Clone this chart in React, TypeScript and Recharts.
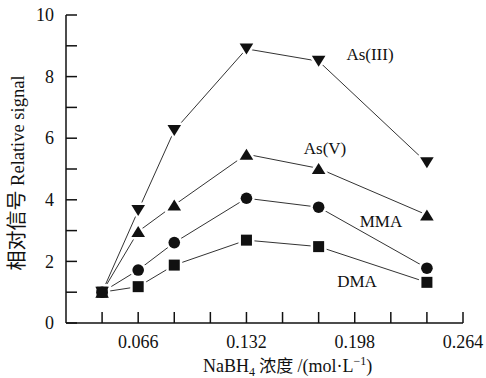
import React from 'react';
import { ComposedChart, Line, XAxis, YAxis } from 'recharts';

// NaBH4 concentration (mol/L) and relative signal of each arsenic species
const concentrations = [0.044, 0.066, 0.088, 0.132, 0.176, 0.242];
const asIII = [1.0, 3.65, 6.25, 8.9, 8.5, 5.2];
const asV = [1.0, 2.97, 3.83, 5.48, 5.02, 3.51];
const mma = [1.0, 1.72, 2.61, 4.05, 3.76, 1.78];
const dma = [1.0, 1.18, 1.88, 2.69, 2.48, 1.32];

const xTicks = [0.044, 0.066, 0.088, 0.11, 0.132, 0.154, 0.176, 0.198, 0.22, 0.242, 0.264];
const xLabeled = ['0.066', '0.132', '0.198', '0.264'];
const yTicks = [0, 1, 2, 3, 4, 5, 6, 7, 8, 9, 10];
const yLabeled = [0, 2, 4, 6, 8, 10];

const X_DOMAIN: [number, number] = [0.022, 0.264];
const Y_DOMAIN: [number, number] = [0, 10];

const FONT = "'Liberation Serif', 'Times New Roman', 'Noto Sans CJK SC', serif";
const INK = '#111';
const TICK_LEN = 11;

const W = 486;
const H = 378;
const M = { top: 15, right: 23, bottom: 0, left: 0 };
const Y_AXIS_W = 66;
const X_AXIS_H = 55;

// plot box, same as the one the chart lays out from the margins and axis sizes
const PLOT = {
  left: M.left + Y_AXIS_W,
  right: W - M.right,
  top: M.top,
  bottom: H - M.bottom - X_AXIS_H,
};
const px = (v: number) =>
  PLOT.left + ((v - X_DOMAIN[0]) / (X_DOMAIN[1] - X_DOMAIN[0])) * (PLOT.right - PLOT.left);
const py = (v: number) =>
  PLOT.bottom - ((v - Y_DOMAIN[0]) / (Y_DOMAIN[1] - Y_DOMAIN[0])) * (PLOT.bottom - PLOT.top);

type Shape = 'down' | 'up' | 'circle' | 'square';

const series: { key: string; name: string; shape: Shape; values: number[] }[] = [
  { key: 'asIII', name: 'As(III)', shape: 'down', values: asIII },
  { key: 'asV', name: 'As(V)', shape: 'up', values: asV },
  { key: 'mma', name: 'MMA', shape: 'circle', values: mma },
  { key: 'dma', name: 'DMA', shape: 'square', values: dma },
];

// where each series name sits, as the centre of its text
const namePos: Record<string, [number, number]> = {
  asIII: [370, 54],
  asV: [325, 148],
  mma: [381, 221],
  dma: [357, 281],
};

const data = concentrations.map((c, i) => {
  const row: Record<string, number> = { c };
  series.forEach((s) => {
    row[s.key] = s.values[i];
  });
  return row;
});

function marker(shape: Shape, cx: number, cy: number, halo: boolean, key: string) {
  const fill = halo ? '#fff' : INK;
  const stroke = halo ? '#fff' : 'none';
  const sw = halo ? 5 : 0;
  if (shape === 'circle') {
    return <circle key={key} cx={cx} cy={cy} r={5.8} fill={fill} stroke={stroke} strokeWidth={sw} />;
  }
  if (shape === 'square') {
    return <rect key={key} x={cx - 5.5} y={cy - 5.5} width={11} height={11} fill={fill} stroke={stroke} strokeWidth={sw} />;
  }
  const h = 5.5;
  const w = 6.8;
  const pts =
    shape === 'down'
      ? `${cx - w},${cy - h} ${cx + w},${cy - h} ${cx},${cy + h}`
      : `${cx - w},${cy + h} ${cx + w},${cy + h} ${cx},${cy - h}`;
  return <polygon key={key} points={pts} fill={fill} stroke={stroke} strokeWidth={sw} strokeLinejoin="round" />;
}

// tick labels only; x, y arrive on the axis line itself (tickSize 0, tickMargin 0)
const XTick = (props: any) => {
  const { x, y, payload } = props;
  const txt = Number(payload.value).toFixed(3);
  if (!xLabeled.includes(txt)) return <g />;
  return (
    <text x={x} y={y + 25} textAnchor="middle" fontSize={18} fill={INK} fontFamily={FONT}>
      {txt}
    </text>
  );
};

const YTick = (props: any) => {
  const { x, y, payload } = props;
  if (!yLabeled.includes(payload.value)) return <g />;
  return (
    <text x={x - 12} y={y} dy="0.34em" textAnchor="end" fontSize={18} fill={INK} fontFamily={FONT}>
      {payload.value}
    </text>
  );
};

// inward tick marks, axis titles and series names drawn over the chart
function Overlay() {
  const cx = M.left + 24;
  const cy = (PLOT.top + PLOT.bottom) / 2 + 4;
  return (
    <svg width={W} height={H} style={{ position: 'absolute', left: 0, top: 0, pointerEvents: 'none' }}>
      <g stroke={INK} strokeWidth={1.5}>
        {xTicks.map((t) => (
          <line key={`xt-${t}`} x1={px(t)} x2={px(t)} y1={PLOT.bottom} y2={PLOT.bottom - TICK_LEN} />
        ))}
        {yTicks.map((t) => (
          <line key={`yt-${t}`} x1={PLOT.left} x2={PLOT.left + TICK_LEN} y1={py(t)} y2={py(t)} />
        ))}
      </g>
      <text x={PLOT.left + 137} y={PLOT.bottom + 49} fontSize={18} fill={INK} fontFamily={FONT}>
        NaBH
        <tspan fontSize={12} dy={4}>4</tspan>
        <tspan dy={-4} fontSize={17}> 浓度 </tspan>
        /(mol·L
        <tspan fontSize={12} dy={-7}>−1</tspan>
        <tspan dy={7}>)</tspan>
      </text>
      <text
        x={cx}
        y={cy}
        textAnchor="middle"
        transform={`rotate(-90 ${cx} ${cy})`}
        fontSize={18.5}
        fill={INK}
        fontFamily={FONT}
      >
        <tspan fontSize={20}>相对信号</tspan> Relative signal
      </text>
      {series.map((s) => (
        <text
          key={s.key}
          x={namePos[s.key][0]}
          y={namePos[s.key][1]}
          dy="0.35em"
          textAnchor="middle"
          fontSize={17}
          fill={INK}
          fontFamily={FONT}
        >
          {s.name}
        </text>
      ))}
    </svg>
  );
}

const axisLine = { stroke: INK, strokeWidth: 1.5 };

export default function App() {
  return (
    <div style={{ position: 'absolute', left: 0, top: 0, width: W, height: H, fontFamily: FONT }}>
      <ComposedChart width={W} height={H} data={data} margin={M}>
        <XAxis
          dataKey="c"
          type="number"
          domain={X_DOMAIN}
          ticks={xTicks}
          interval={0}
          height={X_AXIS_H}
          axisLine={axisLine}
          tickLine={false}
          tickSize={0}
          tickMargin={0}
          tick={<XTick />}
        />
        <YAxis
          type="number"
          domain={Y_DOMAIN}
          ticks={yTicks}
          interval={0}
          width={Y_AXIS_W}
          axisLine={axisLine}
          tickLine={false}
          tickSize={0}
          tickMargin={0}
          tick={<YTick />}
        />
        {series.map((s) => (
          <Line
            key={`${s.key}-line`}
            dataKey={s.key}
            type="linear"
            stroke="#333"
            strokeWidth={1}
            dot={false}
            activeDot={false}
            isAnimationActive={false}
          />
        ))}
        {series.map((s) => (
          <Line
            key={`${s.key}-halo`}
            dataKey={s.key}
            type="linear"
            stroke="none"
            dot={(p: any) => marker(s.shape, p.cx, p.cy, true, `h-${s.key}-${p.index}`)}
            activeDot={false}
            legendType="none"
            isAnimationActive={false}
          />
        ))}
        {series.map((s) => (
          <Line
            key={`${s.key}-mark`}
            dataKey={s.key}
            type="linear"
            stroke="none"
            dot={(p: any) => marker(s.shape, p.cx, p.cy, false, `m-${s.key}-${p.index}`)}
            activeDot={false}
            legendType="none"
            isAnimationActive={false}
          />
        ))}
      </ComposedChart>
      <Overlay />
    </div>
  );
}
